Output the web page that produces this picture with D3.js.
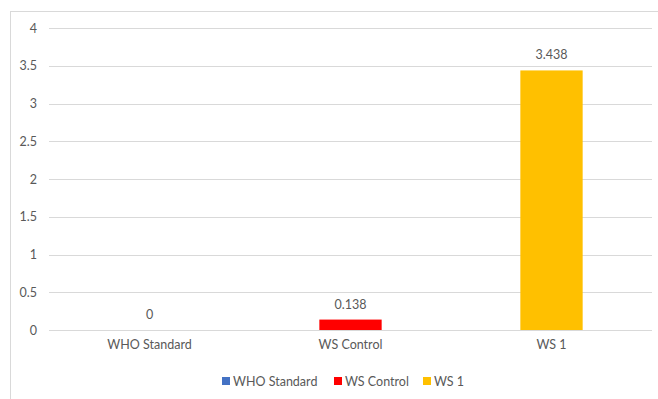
<!DOCTYPE html>
<html>
<head>
<meta charset="utf-8">
<script src="https://cdn.jsdelivr.net/npm/d3@7"></script>
<style>
  html, body { margin: 0; padding: 0; background: #fff; }
  svg { display: block; }
  text { font-family: Lato, "Open Sans", "Liberation Sans", sans-serif; fill: #595959; }
</style>
</head>
<body>
<svg id="chart" width="658" height="399"></svg>
<script>
// Chart data
const categories = ["WHO Standard", "WS Control", "WS 1"];
const values = [0, 0.138, 3.438];
const valueLabels = ["0", "0.138", "3.438"];
const colors = ["#4472C4", "#FF0000", "#FFC000"];
const yTicks = [0, 0.5, 1, 1.5, 2, 2.5, 3, 3.5, 4];
const yTickLabels = ["0", "0.5", "1", "1.5", "2", "2.5", "3", "3.5", "4"];

const svg = d3.select("#chart");
const W = 658, H = 399;

// Outer chart border
svg.append("rect")
  .attr("x", 10.5).attr("y", 11.5)
  .attr("width", W).attr("height", H)
  .attr("fill", "#fff").attr("stroke", "#d9d9d9").attr("stroke-width", 1);

const plot = { left: 49, right: 652, top: 28, bottom: 330 };

const x = d3.scaleBand()
  .domain(categories)
  .range([plot.left, plot.right])
  .paddingInner(0.69).paddingOuter(0.345);

const y = d3.scaleLinear()
  .domain([0, 4])
  .range([plot.bottom, plot.top]);

// Gridlines
svg.append("g")
  .selectAll("line")
  .data(yTicks)
  .join("line")
  .attr("x1", plot.left).attr("x2", plot.right)
  .attr("y1", d => Math.round(y(d)) + 0.5).attr("y2", d => Math.round(y(d)) + 0.5)
  .attr("stroke", "#d9d9d9").attr("stroke-width", 1);

// Y axis labels
const yAxis = d3.axisLeft(y)
  .tickValues(yTicks)
  .tickFormat((d, i) => yTickLabels[i])
  .tickSize(0).tickPadding(0);
const gy = svg.append("g")
  .attr("transform", `translate(${plot.left - 12},0)`)
  .call(yAxis);
gy.select(".domain").remove();
gy.selectAll("text").style("font-size", "12.5px").attr("fill", "#595959")
  .style("font-family", "Lato, 'Open Sans', sans-serif");

// Bars
svg.append("g")
  .selectAll("rect")
  .data(values)
  .join("rect")
  .attr("x", (d, i) => x(categories[i]))
  .attr("width", x.bandwidth())
  .attr("y", d => y(d))
  .attr("height", d => y(0) - y(d))
  .attr("fill", (d, i) => colors[i]);

// Value labels
svg.append("g")
  .selectAll("text")
  .data(values)
  .join("text")
  .attr("x", (d, i) => x(categories[i]) + x.bandwidth() / 2)
  .attr("y", d => y(d) - 11)
  .attr("text-anchor", "middle")
  .style("font-size", "12.5px")
  .text((d, i) => valueLabels[i]);

// X axis labels
const xAxis = d3.axisBottom(x).tickSize(0).tickPadding(0);
const gx = svg.append("g")
  .attr("transform", `translate(0,${plot.bottom + 10})`)
  .call(xAxis);
gx.select(".domain").remove();
gx.selectAll("text").style("font-size", "12.5px").attr("fill", "#595959")
  .style("font-family", "Lato, 'Open Sans', sans-serif");

// Legend
const legendX = [222, 334, 423];
const legend = svg.append("g");
categories.forEach((c, i) => {
  legend.append("rect")
    .attr("x", legendX[i]).attr("y", 377)
    .attr("width", 8).attr("height", 8)
    .attr("fill", colors[i]);
  legend.append("text")
    .attr("x", legendX[i] + 11).attr("y", 385.5)
    .style("font-size", "12.5px")
    .text(c);
});
</script>
</body>
</html>
